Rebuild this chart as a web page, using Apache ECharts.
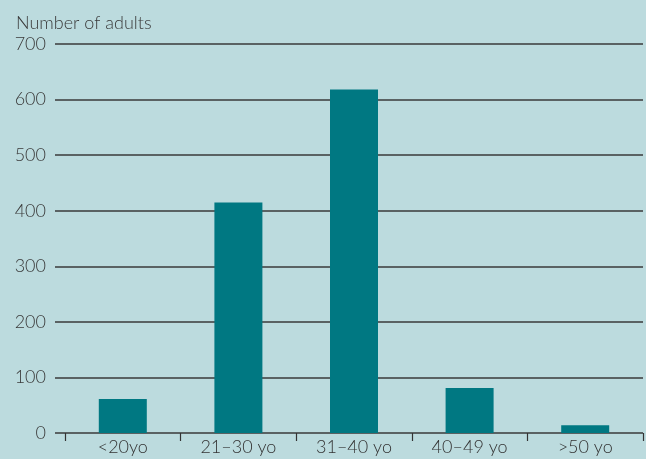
<!DOCTYPE html>
<html>
<head>
<meta charset="utf-8">
<script src="https://cdn.jsdelivr.net/npm/echarts@6/dist/echarts.min.js"></script>
<style>
    html, body { margin: 0; padding: 0; background: #bcdbde; }
    #chart { width: 646px; height: 459px; }
</style>
</head>
<body>
<div id="chart"></div>
<script>
// 年龄分组与人数
var ageGroups = ['<20yo', '21\u201330 yo', '31\u201340 yo', '40\u201349 yo', '>50 yo'];
var adultCounts = [61, 415, 618, 81, 14];
var yTicks = [0, 100, 200, 300, 400, 500, 600, 700];

(function () {
    var myChart = echarts.init(document.getElementById('chart'));
    var font = 'Lato, "Open Sans", sans-serif';
    var option = {
        backgroundColor: '#bcdbde',
        animation: false,
        title: {
            text: 'Number of adults',
            left: 11,
            top: 9,
            textStyle: {
                fontFamily: font,
                fontSize: 18,
                fontWeight: 300,
                color: '#3a3a3a'
            }
        },
        grid: [
            // 横向网格线
            {left: 55, right: 3, top: 44, bottom: 26},
            // 柱子
            {left: 65, right: 3, top: 44, bottom: 26}
        ],
        xAxis: [
            {
                gridIndex: 0,
                type: 'value',
                show: false
            },
            {
                gridIndex: 1,
                type: 'category',
                data: ageGroups,
                axisLine: {show: false},
                axisTick: {
                    show: true,
                    length: 8,
                    inside: false,
                    lineStyle: {color: '#333', width: 1.2}
                },
                axisLabel: {
                    fontFamily: font,
                    fontSize: 18,
                    fontWeight: 300,
                    color: '#333',
                    margin: 5
                }
            }
        ],
        yAxis: [
            {
                gridIndex: 0,
                type: 'value',
                min: yTicks[0],
                max: yTicks[yTicks.length - 1],
                interval: 100,
                axisLine: {show: false},
                axisTick: {show: false},
                axisLabel: {
                    fontFamily: font,
                    fontSize: 18,
                    fontWeight: 300,
                    color: '#3a3a3a',
                    margin: 9
                },
                splitLine: {
                    show: true,
                    lineStyle: {color: '#3a3a3a', width: 1.5}
                }
            },
            {
                gridIndex: 1,
                type: 'value',
                min: yTicks[0],
                max: yTicks[yTicks.length - 1],
                interval: 100,
                show: false
            }
        ],
        series: [
            {
                type: 'bar',
                xAxisIndex: 1,
                yAxisIndex: 1,
                barWidth: 48,
                itemStyle: {color: '#007882'},
                data: adultCounts
            }
        ]
    };
    myChart.setOption(option, true);
})();
</script>
</body>
</html>
